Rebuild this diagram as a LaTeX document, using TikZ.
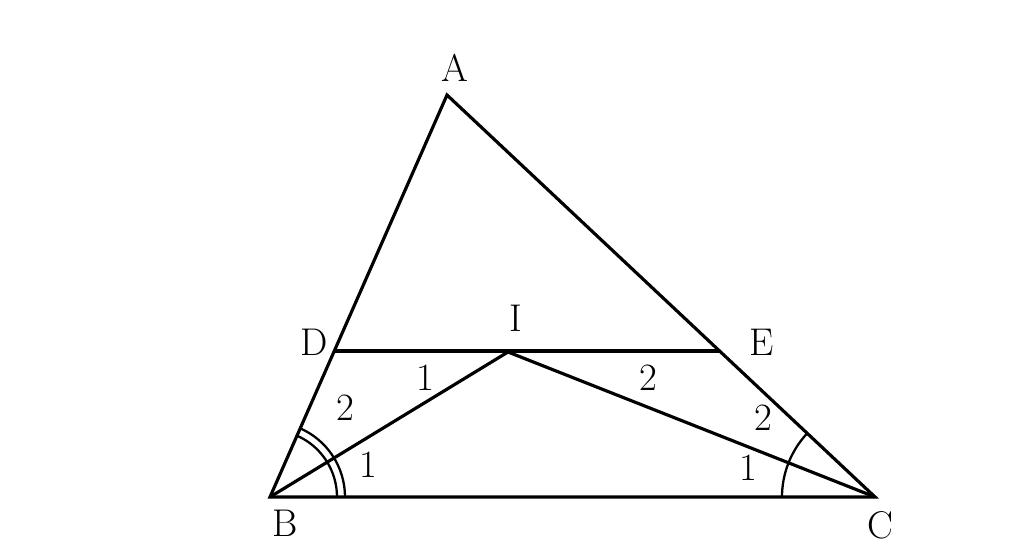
\documentclass[tikz,border=0pt]{standalone}
\usepackage{amsmath}
\usepackage{amssymb}
\usetikzlibrary{calc}

\begin{document}
\begin{tikzpicture}[x=0.02cm, y=0.02cm, line width=1.8pt,
  lbl/.style={font=\fontsize{22}{26}\selectfont}]
\useasboundingbox (0,0) rectangle (1024,560);
\coordinate (B) at (270,63);
\coordinate (C) at (875,63);
\coordinate (A) at (447,465);
\coordinate (D) at ($(B)!0.363!(A)$);
\coordinate (E) at ($(C)!0.363!(A)$);
\coordinate (I) at (508,208);
\draw (B)--(C)--(A)--cycle;
\draw (D)--(E);
\draw (B)--(I)--(C);
% angle marks
\draw[line width=1.3pt] ($(B)+(67,0)$) arc[start angle=0, end angle=66.2, radius=67];
\draw[line width=1.3pt] ($(B)+(75,0)$) arc[start angle=0, end angle=66.2, radius=75];
\draw[line width=1.3pt] ($(C)+(-93,0)$) arc[start angle=180, end angle=136.8, radius=93];
% labels
\path
(455,492) node[lbl] (labA) {A}
(285,37) node[lbl] (labB) {B}
(880,35) node[lbl] (labC) {C}
(314,218) node[lbl] (labD) {D}
(762,218) node[lbl] (labE) {E}
(516,242) node[lbl] (labI) {I};
\path
(368,95) node[lbl] (b1) {1}
(345,152) node[lbl] (b2) {2}
(425,182) node[lbl] (i1) {1}
(648,182) node[lbl] (i2) {2}
(763,142) node[lbl] (c2) {2}
(748,92) node[lbl] (c1) {1};
\end{tikzpicture}
\end{document}
